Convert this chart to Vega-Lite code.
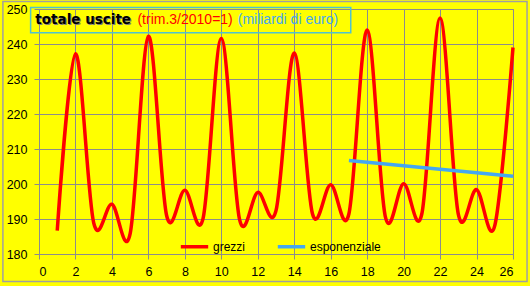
{
  "$schema": "https://vega.github.io/schema/vega-lite/v6.json",
  "width": 474,
  "height": 245,
  "autosize": {"type": "none"},
  "padding": {"left": 39, "top": 9, "right": 17, "bottom": 32},
  "background": "#FFFF00",
  "config": {
    "view": {"stroke": "#8c8c8c", "fill": "#FFFF00"},
    "axis": {
      "gridColor": "#8c8c8c",
      "gridWidth": 1,
      "gridOpacity": 1,
      "domainColor": "#8c8c8c",
      "tickColor": "#8c8c8c",
      "tickSize": 5,
      "labelFont": "Liberation Sans",
      "labelFontSize": 12.5,
      "labelColor": "#000000",
      "labelOverlap": false,
      "title": null
    },
    "axisX": {"labelPadding": 6},
    "axisY": {"labelPadding": 7}
  },
  "datasets": {
    "serie": [
      {"x": 1, "v": 186.7, "serie": "grezzi"},
      {"x": 2, "v": 237.2, "serie": "grezzi"},
      {"x": 3, "v": 188.9, "serie": "grezzi"},
      {"x": 4, "v": 194.2, "serie": "grezzi"},
      {"x": 5, "v": 185.8, "serie": "grezzi"},
      {"x": 6, "v": 242.2, "serie": "grezzi"},
      {"x": 7, "v": 191.0, "serie": "grezzi"},
      {"x": 8, "v": 198.2, "serie": "grezzi"},
      {"x": 9, "v": 190.2, "serie": "grezzi"},
      {"x": 10, "v": 241.6, "serie": "grezzi"},
      {"x": 11, "v": 189.9, "serie": "grezzi"},
      {"x": 12, "v": 197.6, "serie": "grezzi"},
      {"x": 13, "v": 192.4, "serie": "grezzi"},
      {"x": 14, "v": 237.4, "serie": "grezzi"},
      {"x": 15, "v": 191.5, "serie": "grezzi"},
      {"x": 16, "v": 199.8, "serie": "grezzi"},
      {"x": 17, "v": 191.5, "serie": "grezzi"},
      {"x": 18, "v": 244.0, "serie": "grezzi"},
      {"x": 19, "v": 190.6, "serie": "grezzi"},
      {"x": 20, "v": 200.1, "serie": "grezzi"},
      {"x": 21, "v": 191.5, "serie": "grezzi"},
      {"x": 22, "v": 247.4, "serie": "grezzi"},
      {"x": 23, "v": 191.4, "serie": "grezzi"},
      {"x": 24, "v": 198.4, "serie": "grezzi"},
      {"x": 25, "v": 188.1, "serie": "grezzi"},
      {"x": 26, "v": 239.0, "serie": "grezzi"},
      {"x": 17, "v": 206.7, "serie": "esponenziale"},
      {"x": 18, "v": 206.2, "serie": "esponenziale"},
      {"x": 19, "v": 205.7, "serie": "esponenziale"},
      {"x": 20, "v": 205.2, "serie": "esponenziale"},
      {"x": 21, "v": 204.7, "serie": "esponenziale"},
      {"x": 22, "v": 204.2, "serie": "esponenziale"},
      {"x": 23, "v": 203.7, "serie": "esponenziale"},
      {"x": 24, "v": 203.2, "serie": "esponenziale"},
      {"x": 25, "v": 202.7, "serie": "esponenziale"},
      {"x": 26, "v": 202.2, "serie": "esponenziale"}
    ]
  },
  "layer": [
    {
      "data": {"name": "serie"},
      "transform": [{"filter": "datum.serie === 'grezzi'"}],
      "mark": {"type": "line", "interpolate": "cardinal", "strokeWidth": 3.5},
      "encoding": {
        "x": {
          "field": "x",
          "type": "quantitative",
          "scale": {"domain": [0, 26], "nice": false, "zero": false},
          "axis": {"values": [0, 2, 4, 6, 8, 10, 12, 14, 16, 18, 20, 22, 24, 26], "title": null}
        },
        "y": {
          "field": "v",
          "type": "quantitative",
          "scale": {"domain": [180, 250], "nice": false, "zero": false},
          "axis": {"values": [180, 190, 200, 210, 220, 230, 240, 250], "title": null}
        },
        "color": {
          "field": "serie",
          "type": "nominal",
          "scale": {"domain": ["grezzi", "esponenziale"], "range": ["#FF0000", "#44A8F0"]},
          "legend": {
            "orient": "none",
            "legendX": 140,
            "legendY": 222,
            "direction": "horizontal",
            "title": null,
            "symbolType": "stroke",
            "symbolStrokeWidth": 3.5,
            "symbolSize": 750,
            "labelFont": "Liberation Sans",
            "labelFontSize": 12,
            "labelColor": "#000000",
            "labelOffset": 3,
            "columnPadding": 24
          }
        }
      }
    },
    {
      "data": {"name": "serie"},
      "transform": [{"filter": "datum.serie === 'esponenziale'"}],
      "mark": {"type": "line", "strokeWidth": 3.5},
      "encoding": {
        "x": {"field": "x", "type": "quantitative", "axis": {"values": [0, 2, 4, 6, 8, 10, 12, 14, 16, 18, 20, 22, 24, 26], "title": null}},
        "y": {"field": "v", "type": "quantitative", "axis": {"values": [180, 190, 200, 210, 220, 230, 240, 250], "title": null}},
        "color": {"field": "serie", "type": "nominal"}
      }
    },
    {
      "data": {"values": [{}]},
      "mark": {"type": "rect", "fill": null, "fillOpacity": 0, "stroke": "#4FC3D0", "strokeWidth": 1.5},
      "encoding": {
        "x": {"datum": -0.46, "type": "quantitative", "axis": {"values": [0, 2, 4, 6, 8, 10, 12, 14, 16, 18, 20, 22, 24, 26], "title": null}},
        "x2": {"datum": 17.1},
        "y": {"datum": 250.4, "type": "quantitative", "axis": {"values": [180, 190, 200, 210, 220, 230, 240, 250], "title": null}},
        "y2": {"datum": 243.2}
      }
    },
    {
      "data": {"values": [{}]},
      "mark": {"type": "rect", "fill": null, "fillOpacity": 0, "stroke": "#a0a0a0", "strokeWidth": 1.5},
      "encoding": {
        "x": {"datum": -1.98, "type": "quantitative", "axis": {"values": [0, 2, 4, 6, 8, 10, 12, 14, 16, 18, 20, 22, 24, 26], "title": null}},
        "x2": {"datum": 26.77},
        "y": {"datum": 252.17, "type": "quantitative", "axis": {"values": [180, 190, 200, 210, 220, 230, 240, 250], "title": null}},
        "y2": {"datum": 172.17}
      }
    },
    {
      "data": {"values": [{}]},
      "mark": {"type": "text", "text": "totale uscite", "font": "DejaVu Sans", "fontWeight": "bold", "fontSize": 13.5, "color": "#808080", "align": "left", "baseline": "middle", "dx": 1, "dy": 1},
      "encoding": {
        "x": {"datum": -0.2, "type": "quantitative", "axis": {"values": [0, 2, 4, 6, 8, 10, 12, 14, 16, 18, 20, 22, 24, 26], "title": null}},
        "y": {"datum": 246.8, "type": "quantitative", "axis": {"values": [180, 190, 200, 210, 220, 230, 240, 250], "title": null}}
      }
    },
    {
      "data": {"values": [{}]},
      "mark": {"type": "text", "text": "totale uscite", "font": "DejaVu Sans", "fontWeight": "bold", "fontSize": 13.5, "color": "#000000", "align": "left", "baseline": "middle"},
      "encoding": {
        "x": {"datum": -0.2, "type": "quantitative", "axis": {"values": [0, 2, 4, 6, 8, 10, 12, 14, 16, 18, 20, 22, 24, 26], "title": null}},
        "y": {"datum": 246.8, "type": "quantitative", "axis": {"values": [180, 190, 200, 210, 220, 230, 240, 250], "title": null}}
      }
    },
    {
      "data": {"values": [{}]},
      "mark": {"type": "text", "text": "(trim.3/2010=1)", "font": "Liberation Sans", "fontSize": 14, "color": "#FF0000", "align": "left", "baseline": "middle"},
      "encoding": {
        "x": {"datum": 5.4, "type": "quantitative", "axis": {"values": [0, 2, 4, 6, 8, 10, 12, 14, 16, 18, 20, 22, 24, 26], "title": null}},
        "y": {"datum": 246.8, "type": "quantitative", "axis": {"values": [180, 190, 200, 210, 220, 230, 240, 250], "title": null}}
      }
    },
    {
      "data": {"values": [{}]},
      "mark": {"type": "text", "text": "(miliardi di euro)", "font": "Liberation Sans", "fontSize": 14, "color": "#44A8F0", "align": "left", "baseline": "middle"},
      "encoding": {
        "x": {"datum": 10.9, "type": "quantitative", "axis": {"values": [0, 2, 4, 6, 8, 10, 12, 14, 16, 18, 20, 22, 24, 26], "title": null}},
        "y": {"datum": 246.8, "type": "quantitative", "axis": {"values": [180, 190, 200, 210, 220, 230, 240, 250], "title": null}}
      }
    }
  ]
}
